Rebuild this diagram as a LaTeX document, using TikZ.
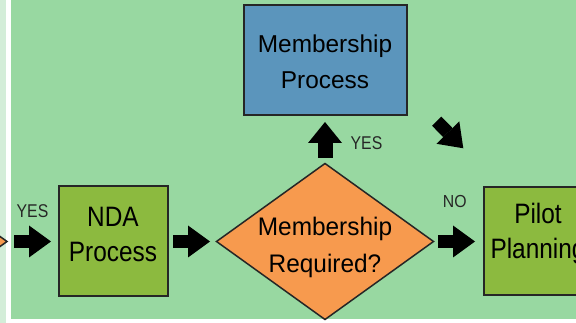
\documentclass[tikz,border=0pt]{standalone}
\usepackage{fontspec}
\setmainfont{Liberation Sans}
\usepackage{graphicx}
\usetikzlibrary{arrows.meta,shapes.geometric}
\definecolor{bgg}{HTML}{98D8A1}
\definecolor{paleg}{HTML}{D3EDD8}
\definecolor{boxg}{HTML}{8CBA3F}
\definecolor{boxb}{HTML}{5B95BC}
\definecolor{dorange}{HTML}{F79A4E}
\definecolor{edge}{HTML}{262626}
% #1 raise of first baseline above centre, #2 vertical scale, #3 line distance, #4 font size, #5 line 1, #6 line 2
\newcommand\twoline[6]{\makebox[0pt]{\raisebox{#1}[0pt][0pt]{\fontsize{#4}{#4}\selectfont
  \makebox[0pt]{\scalebox{1}[#2]{#5}}\raisebox{-#3}{\makebox[0pt]{\scalebox{1}[#2]{#6}}}}}}
\begin{document}
\begin{tikzpicture}[x=1pt,y=-1pt,
  shapebox/.style={draw=edge, line width=2pt, inner sep=0pt, outer sep=0pt},
  greenbox/.style={shapebox, rectangle, fill=boxg},
  bluebox/.style={shapebox, rectangle, fill=boxb},
  decision/.style={shapebox, diamond, fill=dorange, line width=1.5pt},
  lbl/.style={inner sep=0pt, outer sep=0pt, anchor=base, text=edge, font=\fontsize{15.8}{16}\selectfont},
  barrow/.style={draw=black, line width=13pt,
    -{Triangle[length=22pt 0 0, width=32pt 0 0, line width=0pt 0 0]}},
  uparrow/.style={draw=black, line width=15pt,
    -{Triangle[length=21pt 0 0, width=34pt 0 0, line width=0pt 0 0]}}
]
\useasboundingbox (0,0) rectangle (576,323);
\clip (0,0) rectangle (576,323);
% background
\fill[white] (0,0) rectangle (576,323);
\fill[bgg] (11,0) rectangle (576,319);
\fill[paleg] (0,0) rectangle (6,323);
% nodes
\node[decision, minimum width=217pt, minimum height=156pt] (prevdia) at (-101.5,241.5) {};
\node[greenbox, minimum width=109pt, minimum height=110pt] (nda) at (113,241.5)
  {\twoline{14.8pt}{1.15}{35pt}{24.4}{NDA}{Process}};
\node[decision, minimum width=217pt, minimum height=156pt] (dia) at (325,241.5)
  {\twoline{6pt}{1.04}{36.7pt}{24.4}{Membership}{Required?}};
\node[bluebox, minimum width=163pt, minimum height=110pt] (mem) at (325,60.5)
  {\twoline{7.8pt}{1.0}{35.6pt}{24.4}{Membership}{Process}};
\node[greenbox, minimum width=109pt, minimum height=108pt] (pilot) at (538,241.5)
  {\twoline{17.5pt}{1.15}{34.8pt}{24.4}{Pilot}{Planning}};
\coordinate (dtail) at (436.7,121.2);
\coordinate (dtip) at (463.3,148.3);
% connectors
\draw[barrow, shorten <=7pt, shorten >=7.5pt] (prevdia.east) -- (nda.west);
\draw[barrow, shorten <=5.5pt, shorten >=6.5pt] (nda.east) -- (dia.west);
\draw[barrow, shorten <=4.5pt, shorten >=8.5pt] (dia.east) -- (pilot.west);
\draw[uparrow, shorten <=5.5pt, shorten >=6.5pt] (dia.north) -- (mem.south);
\draw[barrow] (dtail) -- (dtip);
% labels
\node[lbl] (yesa) at (32.5,217.3) {\scalebox{1}[1.17]{YES}};
\node[lbl] (yesb) at (366.5,150) {\scalebox{1}[1.17]{YES}};
\node[lbl] (no) at (454.7,207.7) {\scalebox{1}[1.1]{NO}};
\end{tikzpicture}
\end{document}
